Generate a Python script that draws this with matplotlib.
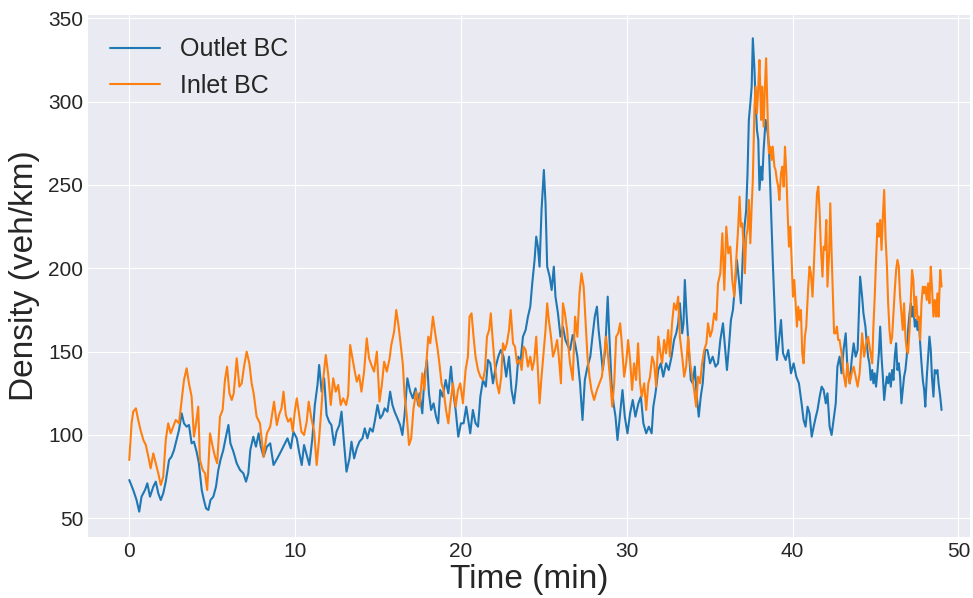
import matplotlib
matplotlib.use("Agg")
import matplotlib.pyplot as plt

# (time in min, density in veh/km)
outlet = [
    (0, 73), (.24, 67), (.44, 61), (.6, 54), (.74, 63), (.95, 67), (1.09, 71), (1.25, 63), (1.45, 69), (1.6, 72),
    (1.75, 65), (1.9, 61), (2.05, 65), (2.2, 72), (2.4, 85), (2.55, 87), (2.7, 91), (2.85, 97), (3.0, 103), (3.16, 113),
    (3.3, 107), (3.46, 105), (3.6, 106), (3.76, 95), (3.9, 96), (4.06, 90), (4.2, 83), (4.37, 67), (4.5, 61), (4.63, 56),
    (4.77, 55), (4.9, 61), (5.07, 63), (5.23, 69), (5.37, 79), (5.5, 85), (5.67, 91), (5.83, 99), (5.98, 106), (6.1, 95),
    (6.28, 90), (6.48, 83), (6.68, 79), (6.88, 77), (7.04, 72), (7.18, 77), (7.3, 91), (7.48, 99), (7.64, 93), (7.8, 101),
    (7.93, 93), (8.1, 87), (8.3, 93), (8.5, 95),
    (8.7, 82), (8.93, 86), (9.14, 90), (9.34, 94), (9.54, 98), (9.74, 92), (9.9, 102), (10.1, 98), (10.24, 90), (10.4, 82),
    (10.54, 94), (10.7, 88), (10.86, 82), (11.04, 98), (11.19, 118), (11.35, 130), (11.45, 142), (11.6, 126), (11.75, 134),
    (11.9, 112), (12.05, 108), (12.19, 106), (12.35, 94), (12.5, 102), (12.67, 106), (12.8, 114), (12.96, 94), (13.1, 78),
    (13.28, 86), (13.4, 96), (13.56, 86), (13.72, 92), (13.88, 96), (14.06, 98), (14.2, 104), (14.36, 98), (14.52, 104),
    (14.68, 102), (14.8, 108), (14.97, 118), (15.13, 110), (15.27, 112), (15.4, 116), (15.57, 114), (15.73, 126),
    (15.87, 118), (16.0, 114), (16.17, 110), (16.33, 106), (16.47, 100), (16.6, 112), (16.77, 134), (16.94, 126),
    (17.1, 122), (17.26, 128), (17.42, 118),
    (17.5, 125), (17.67, 113), (17.8, 135), (17.95, 145), (18.07, 125), (18.2, 115), (18.35, 119), (18.5, 111),
    (18.63, 107), (18.75, 127), (18.9, 123), (19.08, 133), (19.24, 125), (19.4, 141), (19.52, 127), (19.68, 115),
    (19.84, 99), (20.0, 107), (20.16, 107), (20.32, 117), (20.44, 109), (20.56, 101), (20.72, 115), (20.88, 107),
    (21.03, 105), (21.17, 123), (21.33, 133), (21.5, 129), (21.63, 145), (21.77, 143), (21.93, 131), (22.1, 141),
    (22.25, 147), (22.4, 151), (22.57, 147), (22.73, 135), (22.9, 147), (23.05, 127), (23.2, 119), (23.34, 131),
    (23.46, 147), (23.58, 143), (23.74, 159), (23.9, 163), (24.04, 171), (24.18, 177), (24.3, 191), (24.44, 205),
    (24.54, 219), (24.64, 213), (24.74, 201), (24.86, 235), (25.0, 259), (25.1, 239), (25.2, 201), (25.35, 195),
    (25.47, 187), (25.6, 201), (25.7, 183), (25.85, 173), (26.0, 159), (26.15, 165), (26.3, 157), (26.47, 153),
    (26.58, 151), (26.74, 160), (26.88, 155), (27.02, 147), (27.18, 131), (27.33, 109), (27.47, 133), (27.63, 141),
    (27.8, 147), (27.93, 159), (28.07, 171), (28.2, 177), (28.3, 163), (28.43, 151), (28.55, 139), (28.7, 151),
    (28.85, 183), (28.95, 159), (29.08, 131), (29.2, 119), (29.32, 111), (29.44, 97), (29.6, 113), (29.74, 127),
    (29.88, 111), (30.04, 101), (30.2, 113), (30.36, 121), (30.52, 111), (30.7, 119), (30.85, 123), (31.0, 107),
    (31.17, 101), (31.33, 105), (31.5, 101), (31.6, 117), (31.73, 125), (31.9, 139), (32.05, 143), (32.2, 135),
    (32.37, 143), (32.53, 139), (32.7, 147), (32.85, 157), (32.98, 161), (33.1, 167), (33.2, 179), (33.34, 161),
    (33.42, 167), (33.5, 193), (33.6, 173), (33.74, 151), (33.86, 133), (33.98, 131), (34.1, 141), (34.22, 123),
    (34.34, 111), (34.46, 123), (34.58, 131), (34.72, 151), (34.86, 151), (35.02, 143), (35.18, 147), (35.35, 141),
    (35.5, 143),
    (35.64, 157), (35.8, 167), (35.94, 151), (36.04, 139), (36.16, 153), (36.28, 169), (36.4, 175), (36.52, 189),
    (36.64, 205), (36.76, 193), (36.88, 179), (37.0, 209), (37.1, 225), (37.2, 235), (37.28, 257), (37.36, 289),
    (37.45, 299), (37.53, 309), (37.6, 338), (37.7, 319), (37.77, 299), (37.85, 283), (37.93, 277), (38.0, 247),
    (38.1, 261), (38.17, 253), (38.25, 271), (38.37, 289), (38.5, 281), (38.57, 273), (38.65, 249), (38.73, 225),
    (38.8, 205), (38.9, 179), (38.97, 161), (39.05, 145), (39.18, 157), (39.3, 169), (39.42, 149), (39.58, 145),
    (39.74, 151), (39.9, 137), (40.06, 143), (40.22, 135), (40.38, 131), (40.54, 119), (40.66, 109), (40.78, 105),
    (40.9, 117), (41.02, 113), (41.15, 99), (41.27, 105), (41.4, 111), (41.5, 115), (41.63, 123), (41.75, 129),
    (41.87, 127), (42.0, 119), (42.1, 125), (42.23, 105), (42.35, 100), (42.47, 109), (42.6, 119), (42.7, 141),
    (42.83, 147), (42.95, 137), (43.07, 151), (43.2, 161), (43.3, 141), (43.44, 131), (43.56, 145), (43.68, 155),
    (43.8, 147), (43.92, 151),
    (44.07, 195), (44.19, 183), (44.27, 173), (44.39, 165), (44.47, 155), (44.55, 147), (44.63, 143), (44.71, 133),
    (44.8, 139), (44.87, 131), (44.95, 137), (45.03, 129), (45.12, 139), (45.2, 149), (45.28, 165), (45.36, 147),
    (45.44, 135), (45.52, 121), (45.6, 129), (45.68, 135), (45.76, 131), (45.84, 137), (45.92, 129), (46.0, 139),
    (46.08, 133), (46.16, 147), (46.24, 155), (46.32, 139), (46.4, 143), (46.48, 135), (46.56, 119), (46.64, 127),
    (46.72, 135), (46.8, 139), (46.88, 147), (46.96, 163), (47.05, 173), (47.13, 179), (47.2, 171), (47.28, 177),
    (47.37, 165), (47.45, 169), (47.53, 163), (47.61, 169), (47.69, 155), (47.77, 143), (47.85, 133), (47.93, 127),
    (48.0, 117), (48.09, 135), (48.17, 147), (48.25, 159), (48.33, 151), (48.4, 135), (48.49, 123), (48.57, 139),
    (48.65, 137), (48.73, 139), (48.8, 131), (48.9, 123), (48.98, 115),
]

inlet = [
    (0, 85), (.14, 107), (.24, 114), (.4, 116), (.54, 109), (.68, 103), (.85, 97), (1.0, 94), (1.15, 87), (1.29, 80),
    (1.45, 89), (1.6, 83), (1.75, 77), (1.9, 70), (2.05, 75), (2.2, 97), (2.35, 107), (2.5, 101), (2.65, 105), (2.8, 109),
    (3.0, 107), (3.16, 121), (3.3, 133), (3.46, 140), (3.6, 131), (3.76, 123), (3.9, 99), (4.0, 105), (4.16, 117),
    (4.26, 85), (4.43, 79), (4.57, 77), (4.7, 67), (4.87, 101), (5.03, 93), (5.17, 87), (5.3, 83), (5.47, 111),
    (5.63, 115), (5.77, 133), (5.9, 141), (6.04, 125), (6.18, 121), (6.3, 125), (6.48, 146), (6.64, 129), (6.78, 131),
    (6.92, 141), (7.08, 150), (7.24, 143), (7.38, 131), (7.5, 125), (7.68, 111), (7.88, 107), (8.1, 87), (8.3, 101),
    (8.5, 105),
    (8.73, 120), (8.9, 106), (9.03, 112), (9.18, 116), (9.3, 126), (9.44, 112), (9.58, 108), (9.74, 110), (9.86, 102),
    (9.98, 114), (10.1, 122), (10.22, 114), (10.38, 102), (10.54, 100), (10.7, 108), (10.82, 120), (10.98, 110),
    (11.15, 102), (11.3, 82), (11.45, 98), (11.6, 118), (11.7, 134), (11.85, 148), (12.0, 136), (12.15, 118),
    (12.3, 134), (12.45, 126), (12.6, 130), (12.75, 118), (12.9, 122), (13.08, 118), (13.2, 124), (13.32, 154),
    (13.46, 146), (13.6, 138), (13.72, 132), (13.86, 136), (14.0, 126), (14.16, 138), (14.32, 158), (14.46, 146),
    (14.6, 142), (14.76, 138), (14.93, 150), (15.09, 120), (15.23, 130), (15.37, 144), (15.53, 138), (15.7, 146),
    (15.8, 154), (15.97, 162), (16.1, 175), (16.23, 166), (16.37, 154), (16.5, 142), (16.6, 124), (16.73, 112),
    (16.87, 94), (17.0, 98), (17.14, 116), (17.3, 126), (17.46, 118),
    (17.5, 117), (17.67, 137), (17.8, 127), (17.9, 141), (18.03, 159), (18.15, 155), (18.31, 171), (18.45, 161),
    (18.6, 151), (18.7, 143), (18.83, 131), (18.95, 127), (19.1, 115), (19.24, 107), (19.36, 119), (19.52, 131),
    (19.68, 117), (19.82, 127), (19.96, 131), (20.12, 119), (20.28, 139), (20.42, 147), (20.52, 171), (20.64, 173),
    (20.76, 159), (20.88, 147), (21.03, 139), (21.17, 135), (21.33, 133), (21.45, 139), (21.57, 159), (21.7, 163),
    (21.8, 173), (21.9, 159), (22.03, 143), (22.17, 131), (22.3, 125), (22.43, 135), (22.53, 155), (22.65, 151),
    (22.77, 155), (22.9, 163), (23.0, 175), (23.14, 155), (23.26, 153), (23.38, 143), (23.54, 145), (23.66, 139),
    (23.78, 153), (23.9, 151), (24.04, 141), (24.18, 147), (24.3, 139), (24.42, 145), (24.54, 159), (24.66, 135),
    (24.74, 119), (24.86, 135), (25.0, 151), (25.1, 163), (25.2, 179), (25.3, 169), (25.43, 159), (25.55, 147),
    (25.67, 151), (25.8, 157), (25.9, 147), (26.03, 131), (26.15, 179), (26.27, 173), (26.4, 163), (26.5, 151),
    (26.58, 143), (26.74, 133), (26.88, 171), (27.02, 159), (27.15, 185), (27.27, 197), (27.4, 189), (27.5, 171),
    (27.63, 147), (27.75, 135), (27.87, 127), (28.03, 121), (28.2, 127), (28.35, 131), (28.5, 135), (28.63, 147),
    (28.75, 159), (28.87, 147), (29.0, 133), (29.12, 117), (29.24, 131), (29.36, 159), (29.48, 161), (29.6, 167),
    (29.7, 155), (29.84, 135), (29.96, 143), (30.08, 157), (30.2, 145), (30.32, 127), (30.44, 143), (30.56, 133),
    (30.68, 155), (30.8, 131), (30.9, 123), (31.05, 131), (31.17, 115), (31.3, 131), (31.4, 135), (31.53, 147),
    (31.65, 143), (31.77, 129), (31.9, 159), (32.0, 151), (32.13, 143), (32.25, 157), (32.37, 149), (32.5, 163),
    (32.6, 147), (32.73, 167), (32.85, 179), (32.98, 175), (33.1, 183), (33.2, 159), (33.34, 147), (33.46, 135),
    (33.58, 141), (33.7, 159), (33.82, 143), (33.94, 135), (34.06, 127), (34.18, 117), (34.3, 135), (34.42, 131),
    (34.54, 143), (34.67, 151), (34.8, 155), (34.9, 167), (35.03, 159), (35.15, 163), (35.27, 173), (35.4, 169),
    (35.5, 191),
    (35.64, 197), (35.76, 221), (35.88, 187), (36.0, 225), (36.12, 209), (36.24, 213), (36.36, 193), (36.48, 183),
    (36.6, 205), (36.72, 225), (36.8, 243), (36.88, 225), (36.96, 227), (37.04, 215), (37.12, 197), (37.2, 219),
    (37.28, 223), (37.36, 241), (37.45, 215), (37.53, 237), (37.6, 253), (37.7, 297), (37.77, 309), (37.85, 293),
    (37.93, 309), (38.0, 325), (38.1, 289), (38.17, 309), (38.25, 285), (38.33, 309), (38.4, 326), (38.5, 289),
    (38.57, 269), (38.65, 273), (38.73, 265), (38.8, 273), (38.9, 261), (38.97, 259), (39.05, 253), (39.13, 249),
    (39.2, 241), (39.3, 257), (39.38, 261), (39.46, 249), (39.54, 273), (39.62, 257), (39.7, 233), (39.78, 213),
    (39.86, 225), (39.94, 205), (40.02, 183), (40.1, 193), (40.18, 179), (40.26, 165), (40.34, 177), (40.42, 169),
    (40.5, 175), (40.58, 149), (40.66, 143), (40.74, 159), (40.82, 165), (40.94, 189), (41.02, 201), (41.1, 197),
    (41.2, 183), (41.27, 199), (41.35, 219), (41.47, 245), (41.55, 249), (41.63, 233), (41.7, 213), (41.8, 195),
    (41.87, 213), (41.95, 211), (42.03, 229), (42.1, 189), (42.2, 209), (42.27, 239), (42.35, 209), (42.43, 183),
    (42.5, 161), (42.6, 161), (42.67, 165), (42.75, 157), (42.83, 157), (42.95, 149), (43.07, 137), (43.2, 129),
    (43.3, 143), (43.44, 131), (43.56, 137), (43.68, 141), (43.8, 135), (43.92, 129), (44.04, 137),
    (44.19, 161), (44.31, 147), (44.43, 155), (44.55, 159), (44.67, 151), (44.8, 143), (44.87, 165), (44.95, 183),
    (45.03, 205), (45.12, 227), (45.2, 219), (45.28, 229), (45.36, 211), (45.44, 231), (45.52, 247), (45.6, 219),
    (45.68, 203), (45.76, 179), (45.84, 163), (45.92, 155), (46.0, 159), (46.08, 173), (46.16, 187), (46.24, 199),
    (46.32, 205), (46.4, 201), (46.48, 183), (46.56, 173), (46.64, 163), (46.72, 179), (46.8, 159), (46.88, 151),
    (46.96, 149), (47.05, 163), (47.13, 183), (47.2, 199), (47.28, 193), (47.37, 171), (47.45, 183), (47.53, 169),
    (47.61, 171), (47.69, 157), (47.77, 179), (47.85, 189), (47.93, 185), (48.0, 189), (48.09, 181), (48.17, 191),
    (48.25, 179), (48.33, 201), (48.4, 189), (48.49, 171), (48.57, 181), (48.65, 171), (48.73, 185), (48.8, 171),
    (48.9, 199), (48.98, 189),
]

outlet_t, outlet_v = zip(*outlet)
inlet_t, inlet_v = zip(*inlet)

plt.style.use('seaborn-v0_8-darkgrid')
plt.rcParams['font.family'] = ['Liberation Sans', 'DejaVu Sans']

fig = plt.figure(figsize=(9.73, 5.98), dpi=100)
ax = fig.add_axes([0.0904, 0.102, 0.9066, 0.873])

ax.plot(outlet_t, outlet_v, color='#1f77b4', lw=1.5, label='Outlet BC')
ax.plot(inlet_t, inlet_v, color='#ff7f0e', lw=1.5, label='Inlet BC')

ax.set_xlim(-2.49, 50.7)
ax.set_ylim(38.8, 352)
ax.set_xticks([0, 10, 20, 30, 40, 50])
ax.set_yticks([50, 100, 150, 200, 250, 300, 350])
ax.tick_params(labelsize=15)
ax.set_xlabel('Time (min)', fontsize=24, labelpad=2)
ax.set_ylabel('Density (veh/km)', fontsize=24, labelpad=6)
ax.legend(loc='upper left', fontsize=18)

fig.savefig('out.png', dpi=100)
